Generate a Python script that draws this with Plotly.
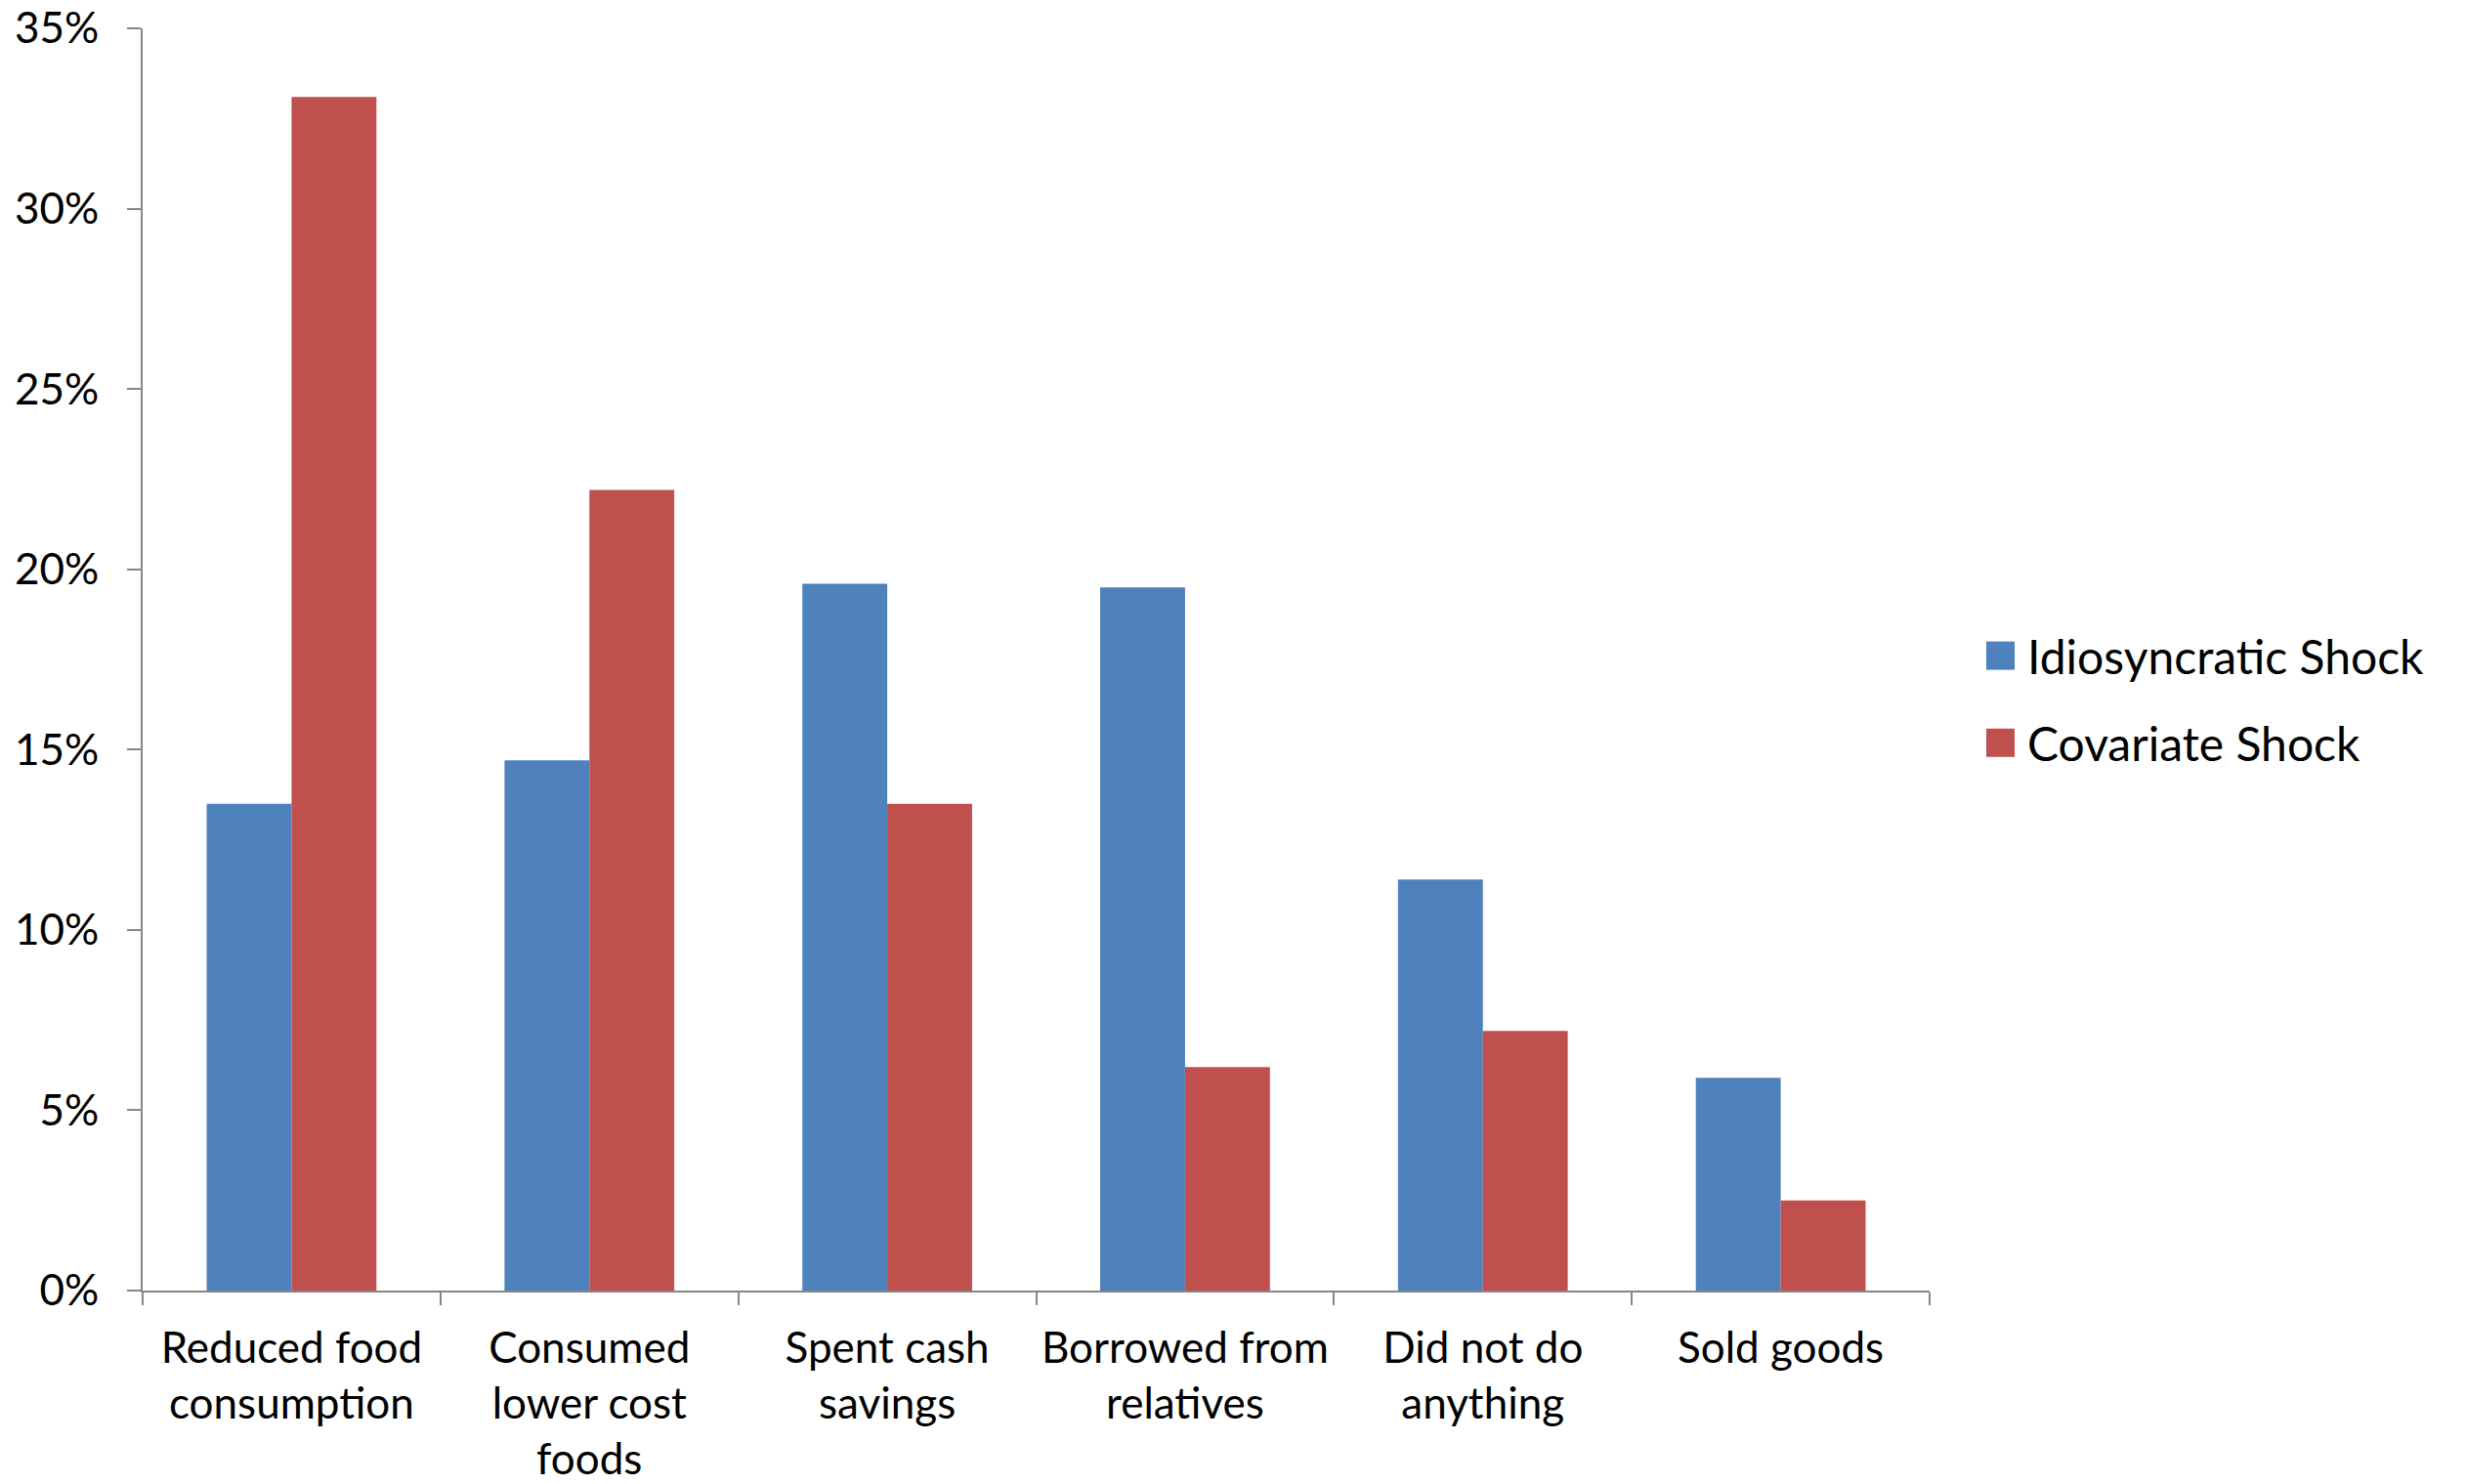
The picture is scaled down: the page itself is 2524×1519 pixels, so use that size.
import plotly.graph_objects as go

# Coping strategies by shock type (share of households)
categories = [
    "Reduced food<br>consumption",
    "Consumed<br>lower cost<br>foods",
    "Spent cash<br>savings",
    "Borrowed from<br>relatives",
    "Did not do<br>anything",
    "Sold goods",
]
idiosyncratic = [0.135, 0.147, 0.196, 0.195, 0.114, 0.059]
covariate = [0.331, 0.222, 0.135, 0.062, 0.072, 0.025]

series_names = ["Idiosyncratic Shock", "Covariate Shock"]
series_colors = ["#4F81BD", "#C0504D"]

y_ticks = [0, 0.05, 0.10, 0.15, 0.20, 0.25, 0.30, 0.35]

FONT = "Lato, 'Open Sans', sans-serif"
AXIS_GREY = "#868686"

PLOT_W = 2524 - 146 - 549
PLOT_H = 1519 - 29 - 198

fig = go.Figure()
for name, vals, color in zip(series_names, [idiosyncratic, covariate], series_colors):
    fig.add_trace(go.Bar(
        x=categories, y=vals, name=name,
        marker=dict(color=color, line=dict(width=0)),
        showlegend=False,
    ))

fig.update_layout(
    width=2524, height=1519,
    margin=dict(l=146, r=549, t=29, b=198),
    paper_bgcolor="white", plot_bgcolor="white",
    barmode="group", bargap=0.43, bargroupgap=0,
    font=dict(family=FONT, size=44, color="black"),
)

fig.update_yaxes(
    range=[0, 0.35], tickvals=y_ticks, tickformat=".0%",
    showgrid=False, zeroline=False, automargin=False,
    showline=True, linecolor=AXIS_GREY, linewidth=2,
    ticks="outside", ticklen=14, tickwidth=2, tickcolor=AXIS_GREY,
    ticklabelstandoff=20,
    tickfont=dict(size=44),
)
fig.update_xaxes(
    showgrid=False, zeroline=False, automargin=False,
    showline=True, linecolor=AXIS_GREY, linewidth=2,
    ticks="outside", ticklen=13, tickwidth=2, tickcolor=AXIS_GREY,
    tickson="boundaries",
    ticklabelstandoff=19,
    tickfont=dict(size=44),
)

# Legend: colored squares with series names, to the right of the plot
legend_x0 = (2033 - 146) / PLOT_W
legend_rows_y = [0.503, 0.434]
for name, color, yc in zip(series_names, series_colors, legend_rows_y):
    fig.add_shape(
        type="rect", xref="paper", yref="paper",
        x0=legend_x0, x1=legend_x0 + 29 / PLOT_W,
        y0=yc - 14.5 / PLOT_H, y1=yc + 14.5 / PLOT_H,
        fillcolor=color, line=dict(width=0),
    )
    fig.add_annotation(
        xref="paper", yref="paper",
        x=legend_x0 + 40 / PLOT_W, y=yc,
        xanchor="left", yanchor="middle",
        text=name, showarrow=False,
        font=dict(size=48, color="black"),
    )

fig.write_html("out.html")
